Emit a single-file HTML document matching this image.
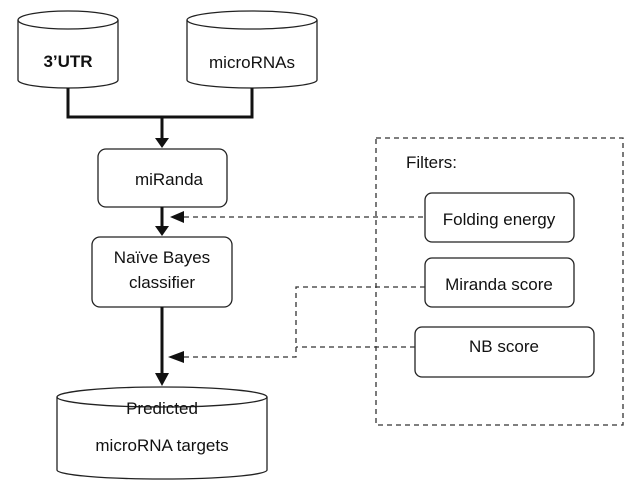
<!DOCTYPE html>
<html><head><style>body{margin:0;background:#fff}svg{display:block}text{font-family:"Liberation Sans",sans-serif;font-size:17px;fill:#111}</style></head><body>
<svg width="636" height="498" viewBox="0 0 636 498" xmlns="http://www.w3.org/2000/svg">
<g fill="none" stroke="#222" stroke-width="1.3">
<path d="M18,20 V80 A50,8 0 0 0 118,80 V20"/><ellipse cx="68" cy="20" rx="50" ry="9"/>
<path d="M187,20 V80 A65,8 0 0 0 317,80 V20"/><ellipse cx="252" cy="20" rx="65" ry="9"/>
<path d="M57,397 V470 A105,9 0 0 0 267,470 V397"/><ellipse cx="162" cy="397" rx="105" ry="10"/>
<rect x="98" y="149" width="129" height="58" rx="8"/>
<rect x="92" y="237" width="140" height="70" rx="8"/>
<rect x="425" y="193" width="149" height="49" rx="7"/>
<rect x="425" y="258" width="149" height="49" rx="7"/>
<rect x="415" y="327" width="179" height="50" rx="7"/>
</g>
<g fill="none" stroke="#111" stroke-width="3">
<path d="M68,88 V117 H252 V88"/><path d="M162,117 V140"/><path d="M162,207 V228"/><path d="M162,307 V376"/>
</g>
<g fill="#111"><path d="M155,138 L169,138 L162,148 Z"/><path d="M155,226 L169,226 L162,236 Z"/><path d="M155,373 L169,373 L162,386 Z"/>
<path d="M170,217 L184,211 L184,223 Z"/><path d="M168,357 L184,351 L184,363 Z"/></g>
<g fill="none" stroke="#333" stroke-width="1.3" stroke-dasharray="5,4">
<rect x="376" y="138" width="247" height="287"/>
<path d="M184,217 H425"/><path d="M425,287 H296 V357 H184"/><path d="M415,347 H296"/>
</g>
<g text-anchor="middle">
<text x="68" y="67" font-weight="bold">3’UTR</text>
<text x="252" y="68">microRNAs</text>
<text x="169" y="185">miRanda</text>
<text x="162" y="263">Naïve Bayes</text>
<text x="162" y="288">classifier</text>
<text x="162" y="414">Predicted</text>
<text x="162" y="451">microRNA targets</text>
<text x="499" y="225">Folding energy</text>
<text x="499" y="290">Miranda score</text>
<text x="504" y="352">NB score</text>
</g>
<text x="406" y="168">Filters:</text>
</svg>
</body></html>
